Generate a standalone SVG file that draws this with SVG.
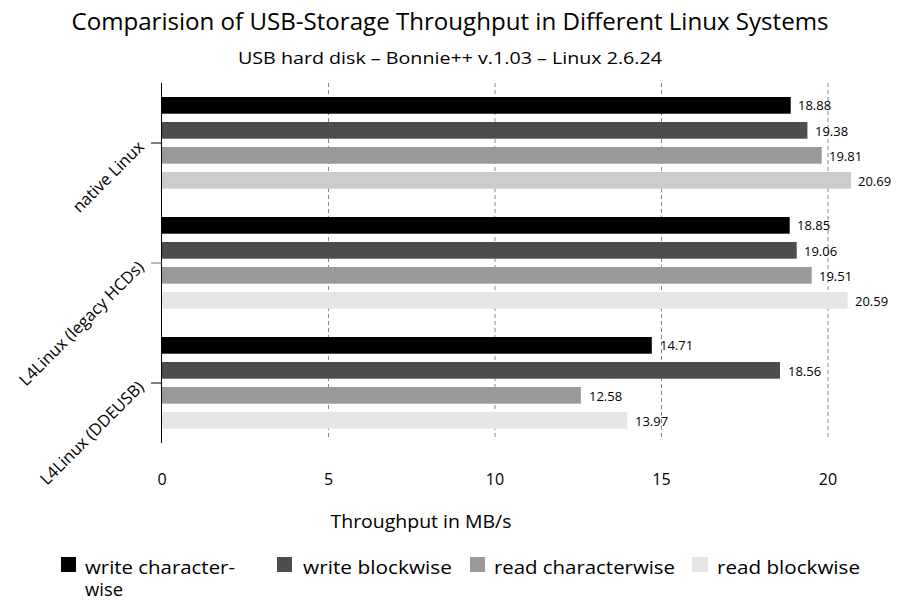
<svg xmlns="http://www.w3.org/2000/svg" width="899" height="604" viewBox="0 0 899 604">
<style>
text{font-family:"Open Sans",Lato,"Liberation Sans",sans-serif;fill:#000}
.t{font-size:23px}
.st{font-size:16px}
.v{font-size:13px}
.tk{font-size:16px;text-anchor:middle}
.cat{font-size:16.5px;text-anchor:end}
.lg{font-size:17.5px}
.ax{font-size:18.5px;text-anchor:middle}
.grid{stroke:#888;stroke-width:1;stroke-dasharray:4,3;fill:none}
.k{fill:#000}.d{fill:#4d4d4d}.m{fill:#999}.l1{fill:#ccc}.l2{fill:#e6e6e6}
</style>
<rect width="899" height="604" fill="#fff"/>
<text class="t" x="450" y="30" text-anchor="middle" textLength="757" lengthAdjust="spacingAndGlyphs">Comparision of USB-Storage Throughput in Different Linux Systems</text>
<text class="st" x="450" y="64" text-anchor="middle" textLength="424" lengthAdjust="spacingAndGlyphs">USB hard disk – Bonnie++ v.1.03 – Linux 2.6.24</text>

<g id="grid">
<line class="grid" x1="328.5" y1="83" x2="328.5" y2="440"/>
<line class="grid" x1="495" y1="83" x2="495" y2="440"/>
<line class="grid" x1="661.5" y1="83" x2="661.5" y2="440"/>
<line class="grid" x1="828" y1="83" x2="828" y2="440"/>
</g>

<g id="axis">
<line x1="161.5" y1="83" x2="161.5" y2="443" stroke="#000" stroke-width="1"/>
<line x1="151" y1="143" x2="161.5" y2="143" stroke="#000"/>
<line x1="151" y1="263" x2="161.5" y2="263" stroke="#777"/>
<line x1="151" y1="383" x2="161.5" y2="383" stroke="#000"/>
<text class="cat" transform="translate(145,148) rotate(-45)">native Linux</text>
<text class="cat" transform="translate(145,268) rotate(-45)">L4Linux (legacy HCDs)</text>
<text class="cat" transform="translate(145,388) rotate(-45)">L4Linux (DDEUSB)</text>
<text class="tk" x="162" y="485">0</text>
<text class="tk" x="328.5" y="485">5</text>
<text class="tk" x="495" y="485">10</text>
<text class="tk" x="661.5" y="485">15</text>
<text class="tk" x="828" y="485">20</text>
<text class="ax" x="421" y="528" textLength="181" lengthAdjust="spacingAndGlyphs">Throughput in MB/s</text>
</g>

<g id="native-linux">
<rect class="k" x="162" y="97" width="628.7" height="16.7"/>
<rect class="d" x="162" y="122" width="645.4" height="16.7"/>
<rect class="m" x="162" y="147" width="659.7" height="16.7"/>
<rect class="l1" x="162" y="172" width="689" height="16.7"/>
<text class="v" x="798" y="110">18.88</text>
<text class="v" x="815" y="135.5">19.38</text>
<text class="v" x="829" y="160.5">19.81</text>
<text class="v" x="858" y="185.5">20.69</text>
</g>

<g id="l4linux-legacy">
<rect class="k" x="162" y="217" width="627.7" height="16.7"/>
<rect class="d" x="162" y="242" width="634.7" height="16.7"/>
<rect class="m" x="162" y="267" width="649.7" height="16.7"/>
<rect class="l2" x="162" y="292" width="685.6" height="16.7"/>
<text class="v" x="797" y="230">18.85</text>
<text class="v" x="804" y="255.5">19.06</text>
<text class="v" x="819" y="280.5">19.51</text>
<text class="v" x="855" y="305.5">20.59</text>
</g>

<g id="l4linux-ddeusb">
<rect class="k" x="162" y="337" width="489.8" height="16.7"/>
<rect class="d" x="162" y="362" width="618" height="16.7"/>
<rect class="m" x="162" y="387" width="418.9" height="16.7"/>
<rect class="l2" x="162" y="412" width="465.2" height="16.7"/>
<text class="v" x="660" y="350">14.71</text>
<text class="v" x="788" y="375.5">18.56</text>
<text class="v" x="589" y="400.5">12.58</text>
<text class="v" x="635" y="425.5">13.97</text>
</g>

<g id="legend">
<rect class="k" x="61" y="557" width="15" height="15"/>
<text class="lg" x="85" y="574" textLength="150" lengthAdjust="spacingAndGlyphs">write character-</text>
<text class="lg" x="85" y="596" textLength="38" lengthAdjust="spacingAndGlyphs">wise</text>
<rect class="d" x="277" y="557" width="15" height="15"/>
<text class="lg" x="303" y="574" textLength="149" lengthAdjust="spacingAndGlyphs">write blockwise</text>
<rect class="m" x="470" y="557" width="15" height="15"/>
<text class="lg" x="494" y="574" textLength="181" lengthAdjust="spacingAndGlyphs">read characterwise</text>
<rect class="l2" x="692" y="557" width="16" height="15"/>
<text class="lg" x="717" y="574" textLength="143" lengthAdjust="spacingAndGlyphs">read blockwise</text>
</g>
</svg>
